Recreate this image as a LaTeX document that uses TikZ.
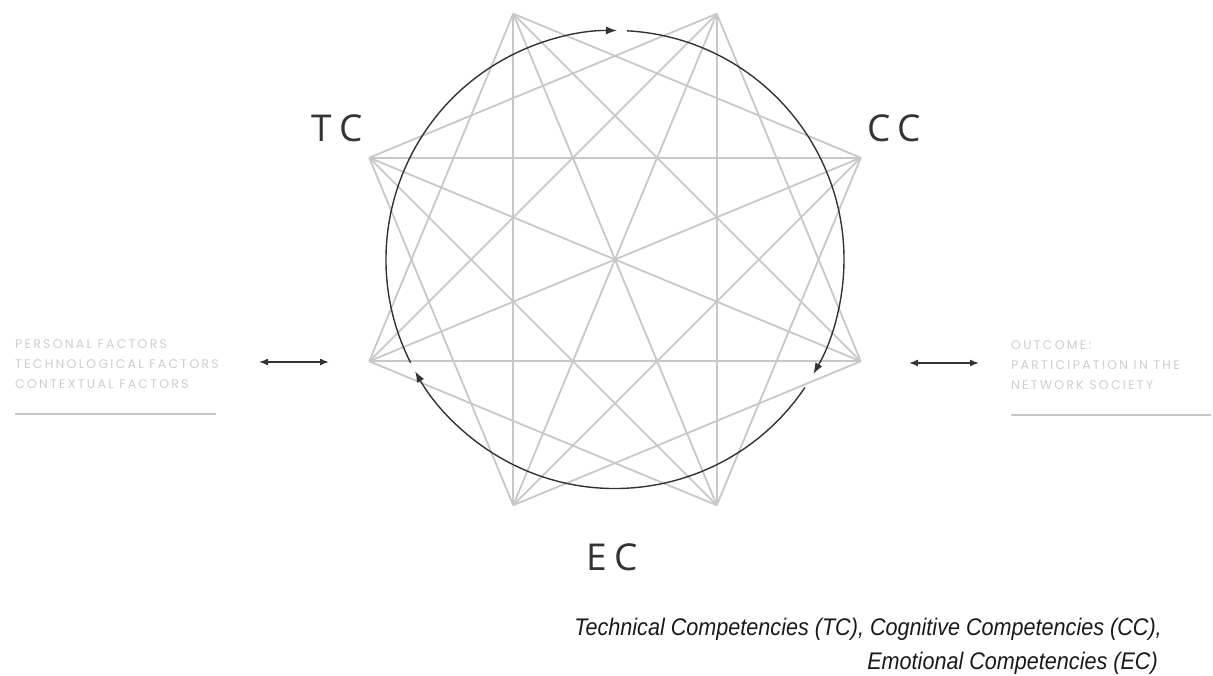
\documentclass[tikz,border=0pt]{standalone}
\usepackage{fontspec}
\setmainfont{Open Sans}
\newfontfamily\sidefont[LetterSpace=18]{Poppins}
\newfontfamily\capfont[FakeStretch=0.9]{Liberation Sans}
\usetikzlibrary{arrows.meta}
\definecolor{edgegray}{HTML}{C8C8C8}
\definecolor{circgray}{HTML}{333333}
\definecolor{sidegray}{HTML}{CDCDCD}
\definecolor{rulegray}{HTML}{C9C5C5}
\begin{document}
\begin{tikzpicture}[x=1pt,y=-1pt,
  edge/.style={draw=edgegray, line width=1.8pt},
  cyc/.style={draw=circgray, line width=1.4pt, -{Latex[length=11pt,width=8pt]}},
  dbl/.style={draw=circgray, line width=1.5pt, {Latex[length=9pt,width=7pt]}-{Latex[length=9pt,width=7pt]}},
  comp/.style={font=\fontsize{37}{40}\selectfont, text=circgray, inner sep=0pt},
  side/.style={font=\sidefont\fontsize{12.5}{20}\selectfont, text=sidegray, inner sep=0pt, anchor=base west},
  captxt/.style={font=\capfont\itshape\fontsize{24}{28}\selectfont, text=black!90, inner sep=0pt, anchor=base east},
  rule/.style={draw=rulegray, line width=1.8pt}]
\useasboundingbox (0,0) rectangle (1213,675);
\coordinate (c) at (615,259.5);
\foreach \i in {0,...,7} {
  \coordinate (v\i) at ([shift={(615,259.5)}]{-22.5-45*\i}:266);
}
% star edges: every pair except neighbours
\foreach \i in {0,...,7} {
  \pgfmathtruncatemacro\a{mod(\i+2,8)}
  \pgfmathtruncatemacro\b{mod(\i+3,8)}
  \draw[edge] (v\i) -- (v\a);
  \draw[edge] (v\i) -- (v\b);
}
\foreach \i in {0,...,3} {
  \pgfmathtruncatemacro\a{\i+4}
  \draw[edge] (v\i) -- (v\a);
}
% cycle arcs
\draw[cyc] ([shift={(615,259.5)}]-206.8:229) arc[start angle=-206.8, end angle=-89.5, radius=229];
\draw[cyc] ([shift={(615,259.5)}]-87:229) arc[start angle=-87, end angle=30, radius=229];
\draw[cyc] ([shift={(615,259.5)}]34:229) arc[start angle=34, end angle=150.8, radius=229];
% labels
\node[comp] (tc) at (337,128) {T\hspace{7pt}C};
\node[comp] (cc) at (894,128) {C\hspace{7pt}C};
\node[comp] (ec) at (612,557) {E\hspace{7pt}C};
% side texts
\node[side] (l1) at (15,348) {PERSONAL FACTORS};
\node[side] (l2) at (15,368) {TECHNOLOGICAL FACTORS};
\node[side] (l3) at (15,388) {CONTEXTUAL FACTORS};
\coordinate (lr1) at (15,414);
\coordinate (lr2) at (216,414);
\draw[rule] (lr1) -- (lr2);
\node[side] (r1) at (1011,349) {OUTCOME:};
\node[side] (r2) at (1011,369) {PARTICIPATION IN THE};
\node[side] (r3) at (1011,389) {NETWORK SOCIETY};
\coordinate (rr1) at (1011,415);
\coordinate (rr2) at (1211,415);
\draw[rule] (rr1) -- (rr2);
% double arrows
\coordinate (la1) at (259,362);
\coordinate (la2) at (329,362);
\draw[dbl] (la1) -- (la2);
\coordinate (ra1) at (909,363);
\coordinate (ra2) at (979,363);
\draw[dbl] (ra1) -- (ra2);
% caption
\node[captxt] (cap1) at (1162,635) {Technical Competencies (TC), Cognitive Competencies (CC),};
\node[captxt] (cap2) at (1158,669) {Emotional Competencies (EC)};
\end{tikzpicture}
\end{document}
